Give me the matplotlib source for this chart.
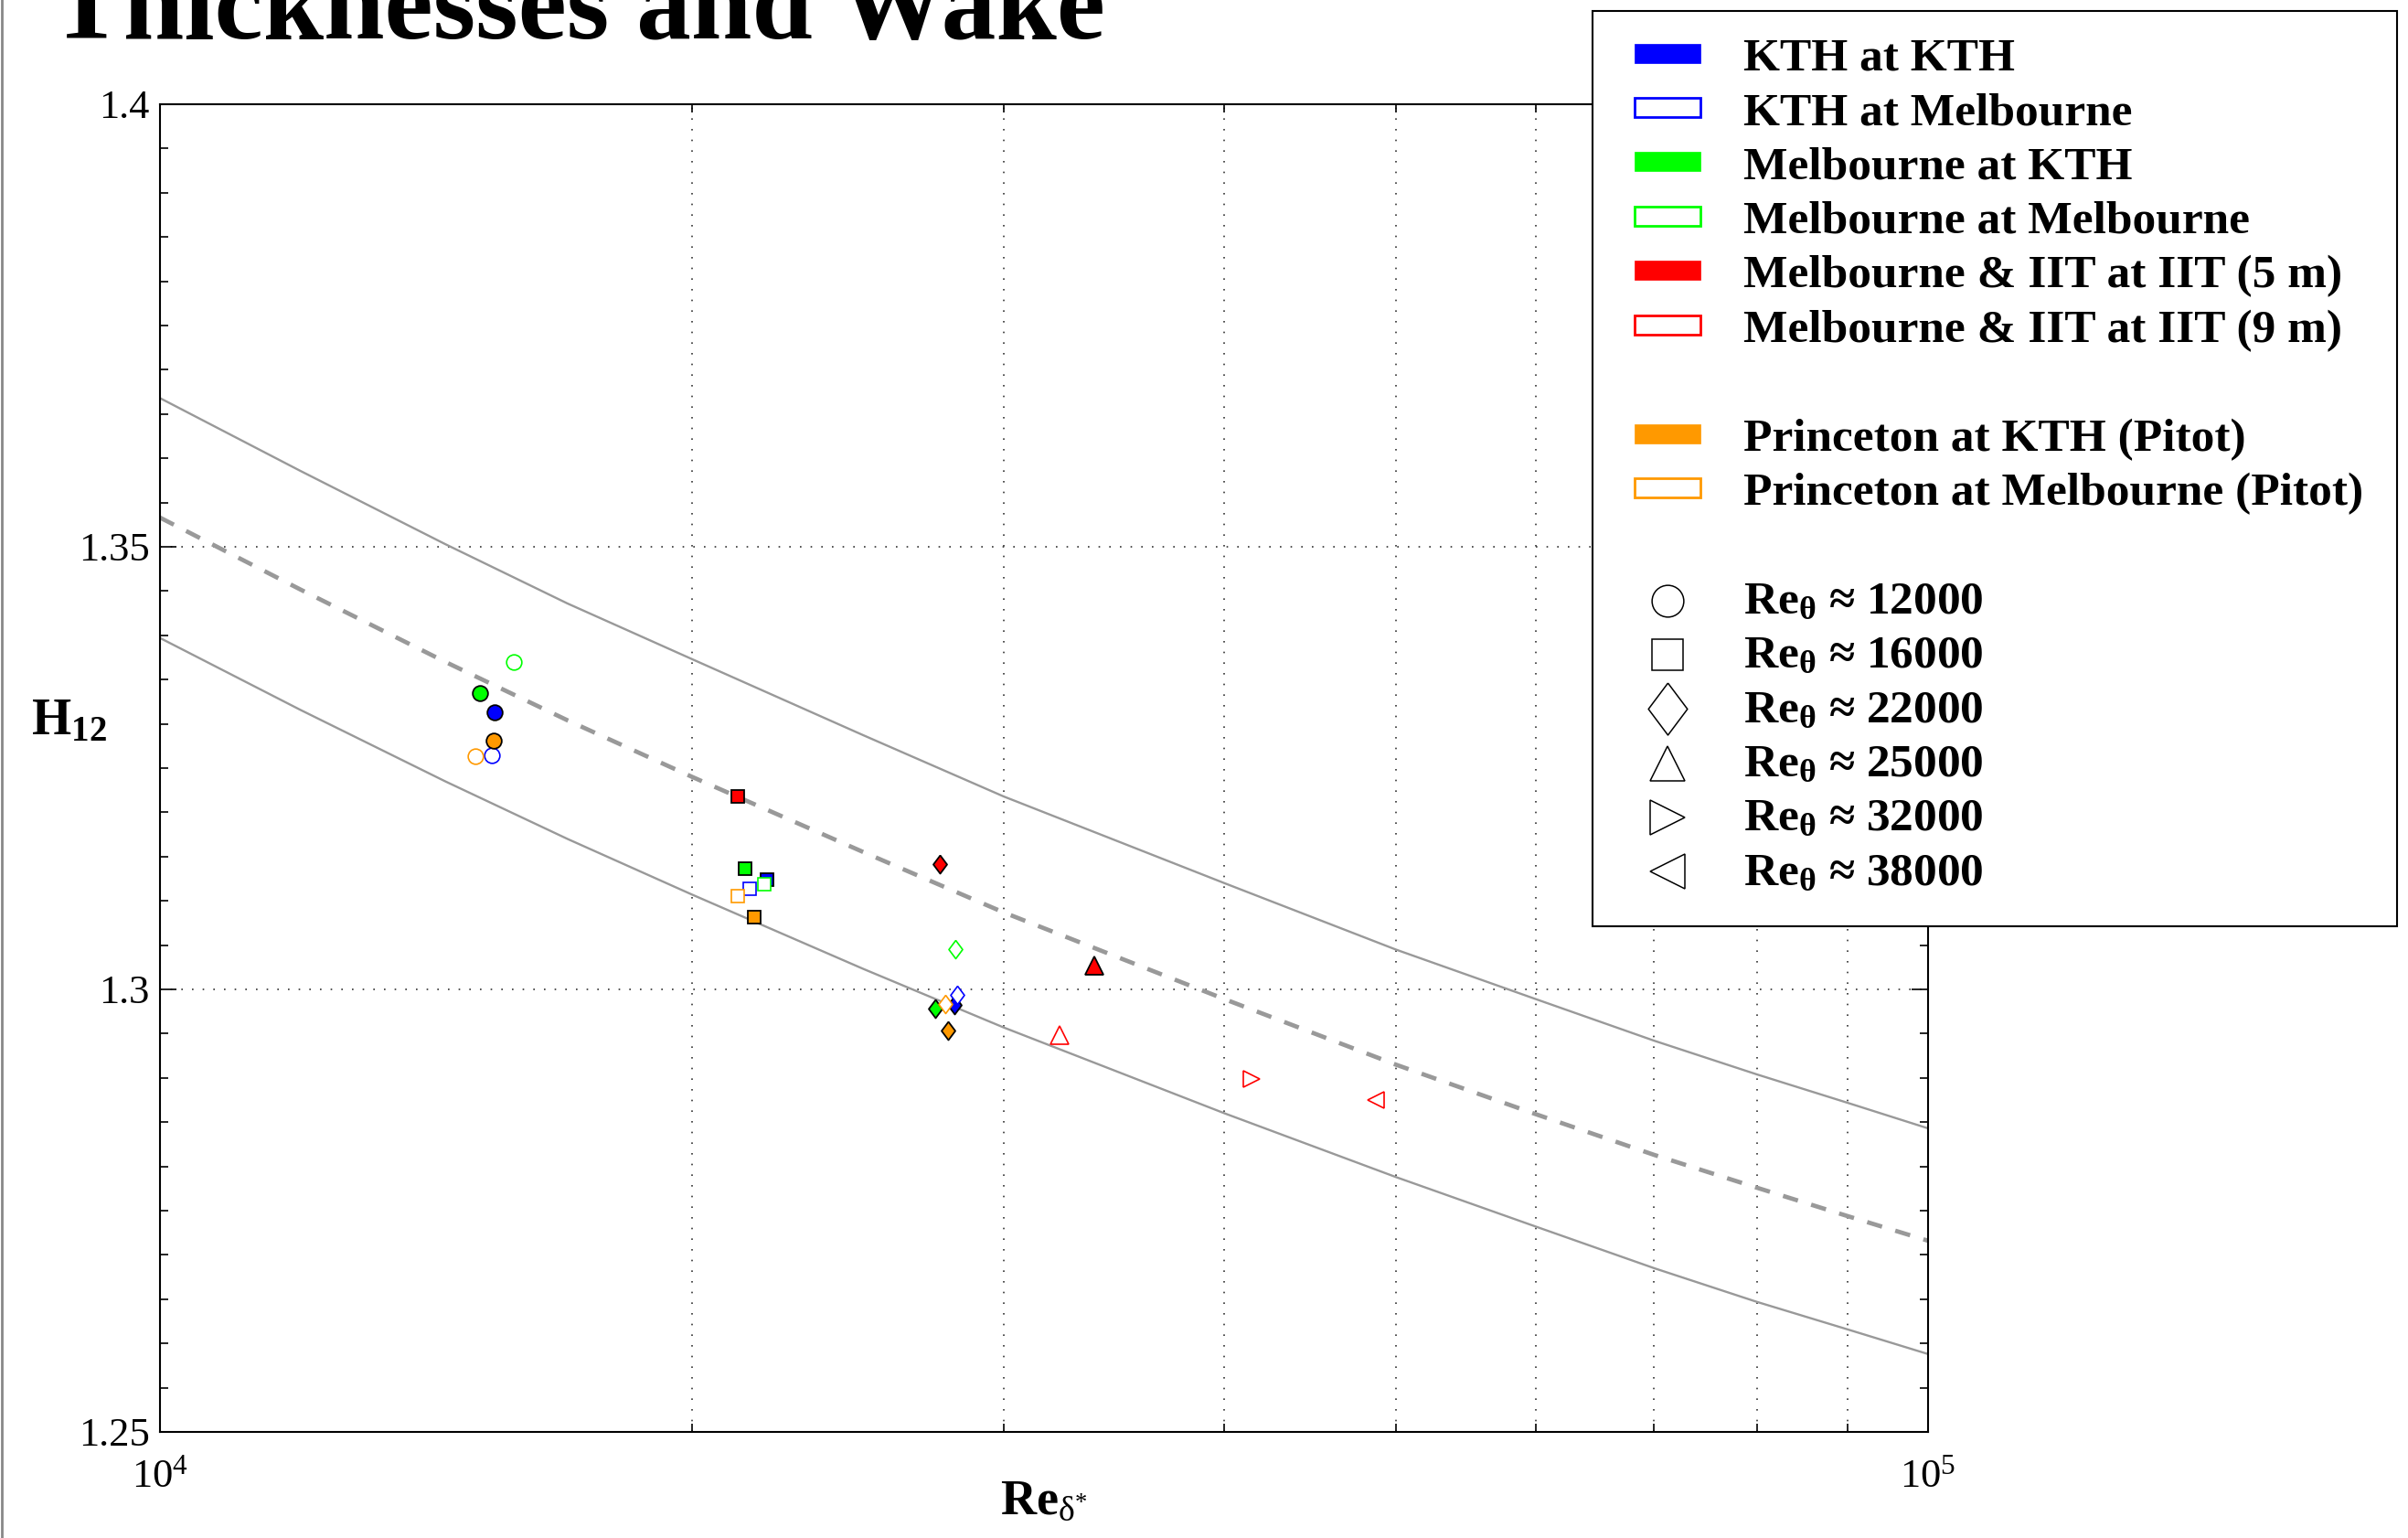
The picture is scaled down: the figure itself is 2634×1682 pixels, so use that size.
import matplotlib
matplotlib.use("Agg")
import matplotlib.pyplot as plt
from matplotlib.lines import Line2D
from matplotlib.patches import Patch, Rectangle
from matplotlib.ticker import MultipleLocator, NullFormatter, FuncFormatter

plt.rcParams["font.family"] = ["Liberation Serif", "DejaVu Serif"]
plt.rcParams["mathtext.fontset"] = "custom"
plt.rcParams["mathtext.rm"] = "Liberation Serif"
plt.rcParams["mathtext.it"] = "Liberation Serif:italic"
plt.rcParams["mathtext.bf"] = "Liberation Serif:bold"

# reference curves
fit_re = [10000, 12000, 14500, 17000, 20000, 25000, 30000, 40000,
          50000, 60000, 70000, 80000, 90000, 100000]
fit_h = [1.3533, 1.3452, 1.3370, 1.3304, 1.3240, 1.3155, 1.3087, 1.2989,
         1.2915, 1.2859, 1.2813, 1.2776, 1.2744, 1.2716]
upper_h = [1.3668, 1.3586, 1.3503, 1.3436, 1.3373, 1.3287, 1.3218, 1.3120,
           1.3045, 1.2989, 1.2942, 1.2904, 1.2872, 1.2843]
lower_h = [1.3397, 1.3316, 1.3235, 1.3170, 1.3107, 1.3023, 1.2957, 1.2860,
           1.2788, 1.2732, 1.2685, 1.2647, 1.2616, 1.2588]

# measurements: Re_delta*, H12, nominal Re_theta
kth_kth_re = [15458, 22055, 28140]
kth_kth_h = [1.3313, 1.3124, 1.2982]
kth_kth_ret = [12000, 16000, 22000]

kth_melb_re = [15408, 21565, 28230]
kth_melb_h = [1.3264, 1.3114, 1.2994]
kth_melb_ret = [12000, 16000, 22000]

melb_kth_re = [15166, 21425, 27460]
melb_kth_h = [1.3335, 1.3136, 1.2978]
melb_kth_ret = [12000, 16000, 22000]

melb_melb_re = [15860, 21970, 28180]
melb_melb_h = [1.3370, 1.3119, 1.3045]
melb_melb_ret = [12000, 16000, 22000]

iit5_re = [21216, 27594, 33760]
iit5_h = [1.3218, 1.3142, 1.3027]
iit5_ret = [16000, 22000, 25000]

iit9_re = [32280, 41460, 48720]
iit9_h = [1.2948, 1.2899, 1.2875]
iit9_ret = [25000, 32000, 38000]

prin_kth_re = [15450, 21675, 27900]
prin_kth_h = [1.3281, 1.3082, 1.2954]
prin_kth_ret = [12000, 16000, 22000]

prin_melb_re = [15080, 21232, 27820]
prin_melb_h = [1.3263, 1.3105, 1.2983]
prin_melb_ret = [12000, 16000, 22000]

re_theta_classes = [12000, 16000, 22000, 25000, 32000, 38000]

DIAMOND = [(0, 1), (0.75, 0), (0, -1), (-0.75, 0), (0, 1)]
markers = {12000: "o", 16000: "s", 22000: DIAMOND, 25000: "^", 32000: ">", 38000: "<"}
marker_size = {12000: 12, 16000: 10, 22000: 14.4, 25000: 14, 32000: 13, 38000: 13}
legend_marker_size = {12000: 25, 16000: 24, 22000: 41, 25000: 27, 32000: 27, 38000: 27}

series = [
    ("KTH at KTH", "#0000ff", True, kth_kth_re, kth_kth_h, kth_kth_ret),
    ("KTH at Melbourne", "#0000ff", False, kth_melb_re, kth_melb_h, kth_melb_ret),
    ("Melbourne at KTH", "#00ff00", True, melb_kth_re, melb_kth_h, melb_kth_ret),
    ("Melbourne at Melbourne", "#00ff00", False, melb_melb_re, melb_melb_h, melb_melb_ret),
    ("Melbourne & IIT at IIT (5 m)", "#ff0000", True, iit5_re, iit5_h, iit5_ret),
    ("Melbourne & IIT at IIT (9 m)", "#ff0000", False, iit9_re, iit9_h, iit9_ret),
    ("Princeton at KTH (Pitot)", "#ff9900", True, prin_kth_re, prin_kth_h, prin_kth_ret),
    ("Princeton at Melbourne (Pitot)", "#ff9900", False, prin_melb_re, prin_melb_h, prin_melb_ret),
]

W, H = 2634, 1682
fig = plt.figure(figsize=(W / 100, H / 100), dpi=100)
ax = fig.add_axes([175 / W, 1 - 1566 / H, 1934 / W, 1452 / H])

ax.plot(fit_re, upper_h, color="#999999", lw=1.7, zorder=2)
ax.plot(fit_re, lower_h, color="#999999", lw=1.7, zorder=2)
ax.plot(fit_re, fit_h, color="#999999", lw=3.4, linestyle=(0, (3.6, 3.2)), zorder=2)

for label, color, filled, xs, hs, rets in series:
    for x, h, ret in zip(xs, hs, rets):
        if filled:
            ax.plot(x, h, marker=markers[ret], ms=marker_size[ret], mfc=color,
                    mec="black", mew=1.3, ls="none", zorder=4)
        else:
            ax.plot(x, h, marker=markers[ret], ms=marker_size[ret], mfc="white",
                    mec=color, mew=1.2, ls="none", zorder=4)

ax.set_xscale("log")
ax.set_xlim(1e4, 1e5)
ax.set_ylim(1.25, 1.4)
ax.xaxis.set_minor_formatter(NullFormatter())
ax.yaxis.set_major_locator(MultipleLocator(0.05))
ax.yaxis.set_minor_locator(MultipleLocator(0.005))
ax.yaxis.set_major_formatter(FuncFormatter(lambda v, p: f"{v:g}"))

grid_style = dict(linestyle=(0, (1, 6)), color="#333333", linewidth=1.2)
ax.grid(True, which="minor", axis="x", **grid_style)
ax.grid(True, which="major", axis="y", **grid_style)

ax.tick_params(which="both", direction="in", top=True, right=True, labelsize=32, width=1.2)
ax.tick_params(which="major", length=13, pad=8)
ax.tick_params(which="minor", length=6.5)
ax.tick_params(axis="x", which="major", pad=21)
for spine in ax.spines.values():
    spine.set_linewidth(1.5)

ax.set_xlabel(r"$\mathbf{Re}_{\mathrm{\delta}^{*}}$", fontsize=39, va="baseline")
ax.xaxis.set_label_coords(0.5, -0.0613)
ax.set_ylabel(r"$\mathbf{H_{12}}$", fontsize=40, rotation=0, ha="left", va="baseline")
ax.yaxis.set_label_coords(-0.073, 0.5255)

fig.text(55 / W, 1 - 42 / H, "Thicknesses and Wake", fontsize=86, fontweight="bold",
         va="baseline", ha="left")

fig.add_artist(Line2D([0.0008, 0.0008], [0, 1], transform=fig.transFigure,
                      color="#888888", lw=2))

# legend box
fig.add_artist(Rectangle((1742 / W, 1 - 1013 / H), 880 / W, 1001 / H,
                         transform=fig.transFigure, facecolor="white",
                         edgecolor="black", lw=1.5, zorder=3))

handles, labels = [], []
for i, (label, color, filled, *_rest) in enumerate(series):
    if i == 6:
        handles.append(Patch(visible=False))
        labels.append(" ")
    if filled:
        handles.append(Patch(facecolor=color, edgecolor=color, lw=0.5))
    else:
        handles.append(Patch(facecolor="white", edgecolor=color, lw=2))
    labels.append(label)
handles.append(Patch(visible=False))
labels.append(" ")
for ret in re_theta_classes:
    handles.append(Line2D([], [], marker=markers[ret], ms=legend_marker_size[ret],
                          mfc="white", mec="black", mew=1.1, ls="none"))
    labels.append(r"$\mathbf{Re}_{\mathbf{\theta}}$ ≈ " + str(ret))

fig.legend(handles, labels, loc="upper left", bbox_to_anchor=(1762 / W, 1 - 16 / H),
           frameon=False, borderpad=0, prop={"size": 37, "weight": "bold"},
           handlelength=1.4, handleheight=0.25, handletextpad=0.93, labelspacing=0.26)

fig.savefig("out.png", dpi=100)
